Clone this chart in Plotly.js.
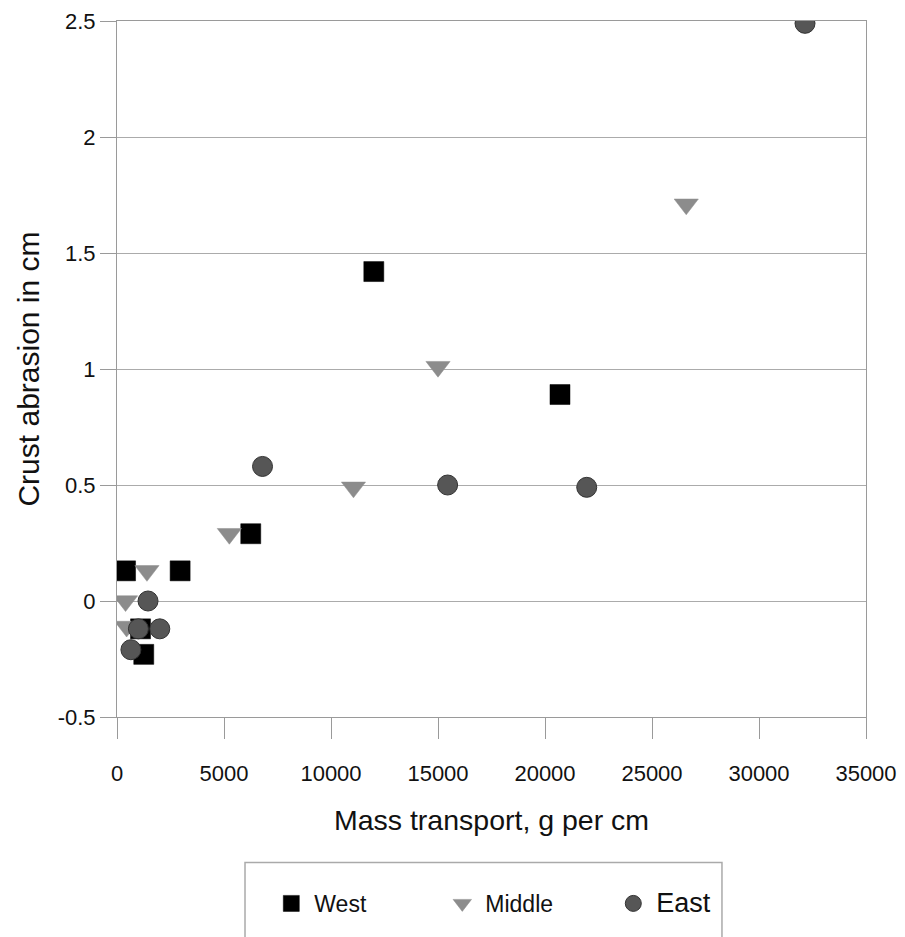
<!DOCTYPE html>
<html>
<head>
<meta charset="utf-8">
<script src="https://cdn.plot.ly/plotly-3.0.1.min.js"></script>
<style>
html,body{margin:0;padding:0;background:#fff;}
#chart{width:905px;height:937px;}
</style>
</head>
<body>
<div id="chart"></div>
<script>
// Series data (x = mass transport g/cm, y = crust abrasion cm)
const westX   = [400, 2950, 1100, 1250, 6250, 12000, 20700];
const westY   = [0.13, 0.13, -0.12, -0.23, 0.29, 1.42, 0.89];
const middleX = [400, 450, 1400, 5250, 11050, 15000, 26600];
const middleY = [0.0, -0.11, 0.13, 0.29, 0.49, 1.01, 1.71];
const eastX   = [1450, 2000, 1000, 650, 6800, 15450, 21950, 32150];
const eastY   = [0.0, -0.12, -0.12, -0.21, 0.58, 0.50, 0.49, 2.49];

const seriesNames = ['West', 'Middle', 'East'];
const xTickVals = [0, 5000, 10000, 15000, 20000, 25000, 30000, 35000];
const xTickLabels = ['0', '5000', '10000', '15000', '20000', '25000', '30000', '35000'];
const yTickVals = [-0.5, 0, 0.5, 1, 1.5, 2, 2.5];
const yTickLabels = ['-0.5', '0', '0.5', '1', '1.5', '2', '2.5'];

const font = 'Liberation Sans, Arial, sans-serif';

const traces = [
  {
    x: westX, y: westY, name: seriesNames[0], type: 'scatter', mode: 'markers',
    marker: {symbol: 'square', size: 20, color: '#000000', line: {color: '#000000', width: 0.5}}
  },
  {
    x: middleX, y: middleY, name: seriesNames[1], type: 'scatter', mode: 'markers',
    marker: {symbol: 'triangle-down', size: 21, color: '#8c8c8c', line: {color: '#8c8c8c', width: 0.5}}
  },
  {
    x: eastX, y: eastY, name: '<span style="font-size:27px">' + seriesNames[2] + '</span>', type: 'scatter', mode: 'markers',
    marker: {symbol: 'circle', size: 20, color: '#565656', line: {color: '#333333', width: 1}}
  }
];

const gridColor = '#ababab';
const lineColor = '#9a9a9a';

const layout = {
  width: 905, height: 937,
  paper_bgcolor: '#ffffff', plot_bgcolor: '#ffffff',
  font: {family: font, color: '#111111', size: 22},
  margin: {l: 117, r: 39, t: 21, b: 216, pad: 0},
  showlegend: true,
  xaxis: {
    range: [0, 35000], tickvals: xTickVals, ticktext: xTickLabels,
    showgrid: false, zeroline: false, automargin: false,
    showline: true, linecolor: lineColor, linewidth: 1, mirror: true,
    ticks: 'outside', ticklen: 21, tickcolor: lineColor, tickwidth: 1,
    ticklabelstandoff: 16,
    tickfont: {family: font, size: 22, color: '#111'},
    title: {text: 'Mass transport, g per cm', font: {family: font, size: 28.5, color: '#111'}, standoff: 24},
    fixedrange: true
  },
  yaxis: {
    range: [-0.5, 2.5], tickvals: yTickVals, ticktext: yTickLabels,
    showgrid: true, gridcolor: gridColor, gridwidth: 1, automargin: false,
    zeroline: true, zerolinecolor: gridColor, zerolinewidth: 1,
    showline: true, linecolor: lineColor, linewidth: 1, mirror: true,
    ticks: 'outside', ticklen: 16, tickcolor: lineColor, tickwidth: 1,
    tickfont: {family: font, size: 22, color: '#111'},
    title: {text: 'Crust abrasion in cm', font: {family: font, size: 30, color: '#111'}, standoff: 9},
    fixedrange: true
  },
  legend: {
    orientation: 'h', x: 0.202, xanchor: 'left', y: -0.237, yanchor: 'top',
    bgcolor: 'rgba(0,0,0,0)', borderwidth: 0,
    font: {family: font, size: 23, color: '#111'},
    entrywidth: 120, entrywidthmode: 'pixels', itemwidth: 36
  },
  shapes: [
    {type: 'rect', xref: 'paper', yref: 'paper', x0: 0.1709, x1: 0.8077, y0: -0.209, y1: -0.45,
     line: {color: '#aaaaaa', width: 1.5}, fillcolor: 'rgba(0,0,0,0)', layer: 'below'}
  ]
};

Plotly.newPlot('chart', traces, layout, {displayModeBar: false, staticPlot: true});
</script>
</body>
</html>
